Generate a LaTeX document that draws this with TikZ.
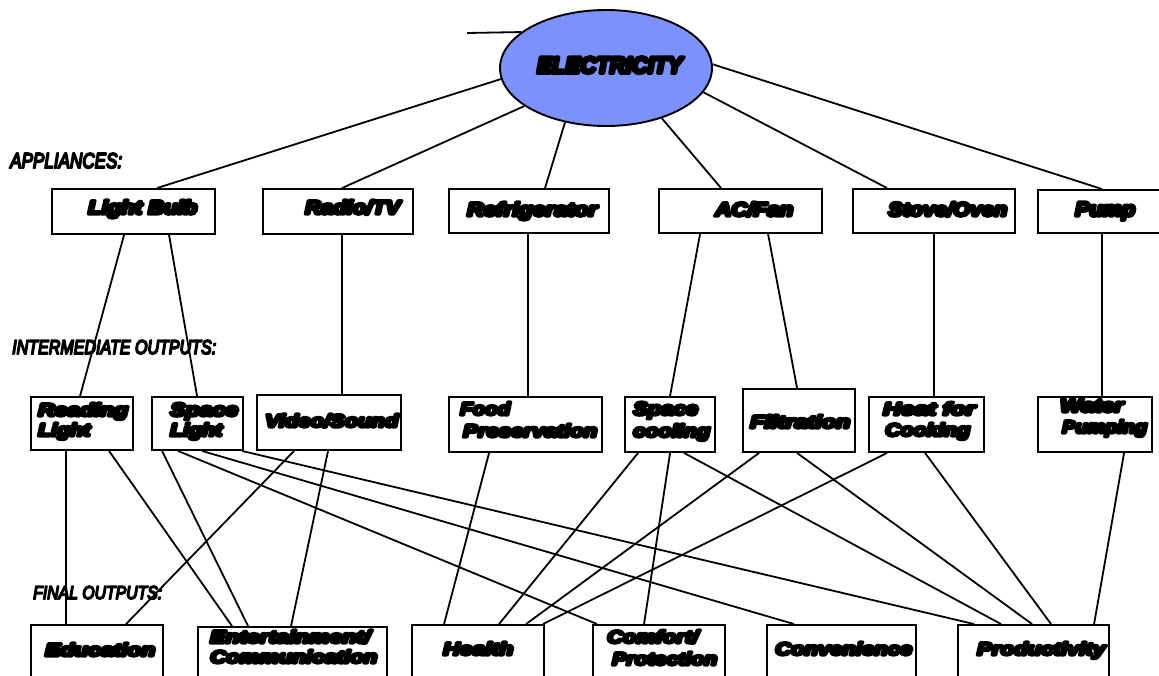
\documentclass[tikz,border=0pt]{standalone}
\usepackage{fontspec}
\usepackage{graphicx}
\newfontfamily\heavyb{Liberation Sans}[UprightFont={* Bold Italic}]
\newfontfamily\heavyl{Liberation Sans}[UprightFont={* Italic}]
\usetikzlibrary{shapes.geometric}
\definecolor{elblue}{RGB}{125,145,250}
\newcommand{\bt}[3]{\resizebox{#1pt}{#2pt}{\special{pdf:literal direct q 2 Tr 1.7 w 1 j}\heavyb #3\special{pdf:literal direct Q}}}
\newcommand{\lt}[3]{\resizebox{#1pt}{#2pt}{\special{pdf:literal direct q 2 Tr 0.9 w 1 j}\heavyl #3\special{pdf:literal direct Q}}}
\tikzset{
  box/.style={draw, line width=1.9pt, rectangle, inner sep=0pt},
  conn/.style={line width=1.8pt},
  tx/.style={anchor=base west, inner sep=0pt},
}
\newcommand{\bx}[5]{\node[box, minimum width={(#4-#2)*1pt}, minimum height={(#5-#3)*1pt}] (#1) at ({(#2+#4)/2},{(#3+#5)/2}) {};}
\newcommand{\cn}[4]{\draw[conn] ([xshift=#2pt]#1.south west) -- ([xshift=#4pt]#3.north west);}
\begin{document}
\begin{tikzpicture}[x=1pt,y=-1pt]
\useasboundingbox (0,0) rectangle (1159,675);
\clip (0,0) rectangle (1159,675);
\fill[white] (0,0) rectangle (1159,675);
% ellipse
\node[ellipse, draw, line width=1.9pt, fill=elblue, minimum width=212pt, minimum height=116pt, inner sep=0pt] (el) at (606,68) {};
\node[tx] (tElec) at (537,73) {\bt{145}{16}{ELECTRICITY}};
\coordinate (tl) at (467,33);
\draw[conn] (el.157.9) -- (tl);
% appliances
\bx{bulb}{52}{189}{215}{234}
\bx{radio}{263}{189}{413}{234}
\bx{fridge}{449}{189}{609}{233}
\bx{acfan}{659}{189}{822}{233}
\bx{stove}{853}{189}{1015}{233}
\bx{pump}{1038}{190}{1170}{233}
% intermediate
\bx{reading}{31}{397}{133}{450}
\bx{spacel}{152}{397}{243}{450}
\bx{video}{257}{395}{401}{450}
\bx{food}{449}{397}{602}{452}
\bx{spacec}{625}{397}{715}{452}
\bx{filt}{743}{389}{855}{452}
\bx{heat}{869}{397}{984}{452}
\bx{water}{1038}{397}{1152}{452}
% final
\bx{edu}{31}{625}{163}{700}
\bx{ent}{198}{627}{387}{700}
\bx{health}{412}{625}{544}{700}
\bx{comfort}{593}{625}{725}{700}
\bx{conv}{767}{625}{916}{700}
\bx{prod}{958}{625}{1109}{700}
% ellipse to appliances
\draw[conn] (el.186.6) -- ([xshift=106pt]bulb.north west);
\draw[conn] (el.205.1) -- ([xshift=80pt]radio.north west);
\draw[conn] (el.233.3) -- ([xshift=97pt]fridge.north west);
\draw[conn] (el.318.4) -- ([xshift=63pt]acfan.north west);
\draw[conn] (el.346) -- ([xshift=35pt]stove.north west);
\draw[conn] (el.2.7) -- ([xshift=65pt]pump.north west);
% appliances to intermediate
\cn{bulb}{73}{reading}{50}
\cn{bulb}{118}{spacel}{46}
\cn{radio}{80}{video}{86}
\cn{fridge}{80}{food}{80}
\cn{acfan}{42}{spacec}{46}
\cn{acfan}{110}{filt}{55}
\cn{stove}{82}{heat}{66}
\cn{pump}{65}{water}{65}
% intermediate to final
\cn{reading}{36}{edu}{36}
\cn{reading}{79}{ent}{35}
\cn{spacel}{11}{ent}{51}
\cn{spacel}{27}{comfort}{5}
\cn{spacel}{51}{conv}{28}
\cn{spacel}{91}{prod}{17}
\cn{video}{38}{edu}{96}
\cn{video}{72}{ent}{94}
\cn{food}{41}{health}{33}
\cn{spacec}{14}{health}{88}
\cn{spacec}{46}{comfort}{52}
\cn{spacec}{60}{prod}{44}
\cn{filt}{17}{health}{115}
\cn{filt}{55}{prod}{75}
\cn{heat}{19}{health}{132}
\cn{heat}{57}{prod}{94}
\cn{water}{87}{prod}{137}
% section labels
\node[tx] (lApp) at (10,168) {\lt{112}{15}{APPLIANCES:}};
\node[tx] (lInt) at (12,354) {\lt{204}{14}{INTERMEDIATE OUTPUTS:}};
\node[tx] (lFin) at (33,599) {\lt{129}{13}{FINAL OUTPUTS:}};
% appliance texts
\node[tx] (t1) at (88,214) {\bt{109}{14}{Light Bulb}};
\node[tx] (t2) at (305,214) {\bt{95}{14}{Radio/TV}};
\node[tx] (t3) at (467,216) {\bt{130}{14}{Refrigerator}};
\node[tx] (t4) at (715,216) {\bt{78}{14}{AC/Fan}};
\node[tx] (t5) at (888,216) {\bt{119}{14}{Stove/Oven}};
\node[tx] (t6) at (1075,216) {\bt{60}{14}{Pump}};
% intermediate texts
\node[tx] (i1a) at (38,416) {\bt{90}{13}{Reading}};
\node[tx] (i1b) at (38,436) {\bt{52}{13}{Light}};
\node[tx] (i2a) at (170,416) {\bt{68}{13}{Space}};
\node[tx] (i2b) at (170,436) {\bt{52}{13}{Light}};
\node[tx] (i3) at (265,427) {\bt{133}{13}{Video/Sound}};
\node[tx] (i4a) at (460,415) {\bt{50}{13}{Food}};
\node[tx] (i4b) at (463,437) {\bt{134}{13}{Preservation}};
\node[tx] (i5a) at (633,415) {\bt{65}{13}{Space}};
\node[tx] (i5b) at (633,437) {\bt{77}{13}{cooling}};
\node[tx] (i6) at (750,428) {\bt{100}{13}{Filtration}};
\node[tx] (i7a) at (883,415) {\bt{92}{13}{Heat for}};
\node[tx] (i7b) at (885,436) {\bt{85}{13}{Cooking}};
\node[tx] (i8a) at (1060,412) {\bt{63}{13}{Water}};
\node[tx] (i8b) at (1062,433) {\bt{85}{13}{Pumping}};
% final texts
\node[tx] (f1) at (45,656) {\bt{110}{13}{Education}};
\node[tx] (f2a) at (210,643) {\bt{160}{13}{Entertainment/}};
\node[tx] (f2b) at (210,663) {\bt{167}{13}{Communication}};
\node[tx] (f3) at (443,655) {\bt{70}{13}{Health}};
\node[tx] (f4a) at (607,643) {\bt{91}{13}{Comfort/}};
\node[tx] (f4b) at (612,665) {\bt{105}{13}{Protection}};
\node[tx] (f5) at (775,655) {\bt{137}{13}{Convenience}};
\node[tx] (f6) at (977,655) {\bt{128}{13}{Productivity}};
\end{tikzpicture}
\end{document}
